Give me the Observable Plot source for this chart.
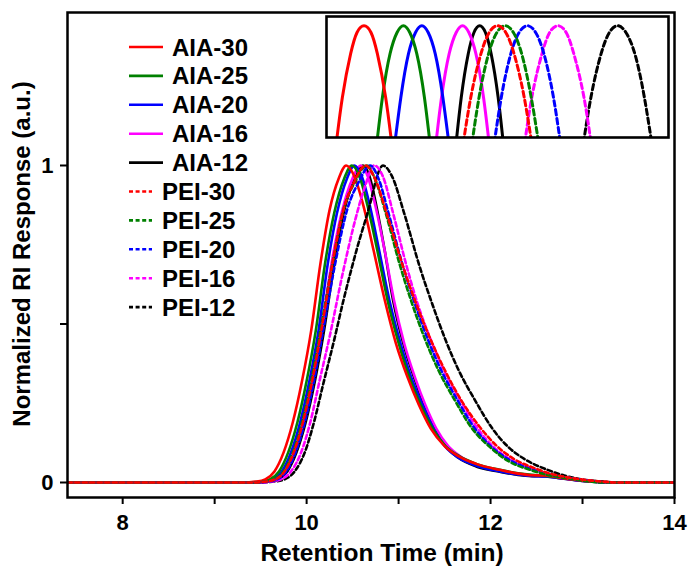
<!DOCTYPE html>
<html>
<head>
<meta charset="utf-8">
<script src="https://cdn.jsdelivr.net/npm/d3@7"></script>
<script src="https://cdn.jsdelivr.net/npm/@observablehq/plot@0.6"></script>
<style>
  html, body { margin: 0; padding: 0; background: #fff; }
  #wrap { position: relative; width: 688px; height: 571px; overflow: hidden; }
  #wrap svg { position: absolute; }
</style>
</head>
<body>
<div id="wrap"></div>
<script>
// ---- Series names, colours, dash flags ----
const names = ["AIA-30","AIA-25","AIA-20","AIA-16","AIA-12","PEI-30","PEI-25","PEI-20","PEI-16","PEI-12"];
const colors = ["#ff0000","#008000","#0000ff","#ff00ff","#000000","#ff0000","#008000","#0000ff","#ff00ff","#000000"];
const dashed = [false,false,false,false,false,true,true,true,true,true];

// ---- Main chromatograms: [retention time (min), normalized response] ----
const AIA30 = [[7.4,0],[9.3,0],[9.45,0.003],[9.55,0.01],[9.65,0.035],[9.75,0.095],[9.85,0.19],[9.95,0.32],[10.05,0.48],[10.15,0.69],[10.25,0.86],[10.35,0.96],[10.43,1.0],[10.52,0.965],[10.62,0.87],[10.73,0.73],[10.85,0.575],[10.97,0.44],[11.1,0.33],[11.22,0.245],[11.35,0.17],[11.5,0.115],[11.65,0.083],[11.85,0.058],[12.1,0.04],[12.3,0.028],[12.45,0.023],[12.6,0.022],[12.8,0.013],[13.0,0.006],[13.2,0.002],[13.4,0],[14,0]];
const AIA25 = [[7.4,0],[9.35,0],[9.5,0.003],[9.6,0.01],[9.7,0.035],[9.8,0.095],[9.9,0.19],[10.0,0.32],[10.1,0.48],[10.2,0.69],[10.3,0.85],[10.41,0.96],[10.493,1.0],[10.575,0.965],[10.665,0.87],[10.77,0.73],[10.88,0.575],[11.0,0.44],[11.12,0.33],[11.24,0.245],[11.37,0.17],[11.51,0.115],[11.66,0.083],[11.85,0.058],[12.1,0.04],[12.3,0.029],[12.45,0.024],[12.6,0.021],[12.8,0.014],[13.0,0.007],[13.2,0.002],[13.4,0],[14,0]];
const AIA20 = [[7.4,0],[9.38,0],[9.53,0.003],[9.63,0.01],[9.73,0.035],[9.83,0.095],[9.93,0.19],[10.03,0.32],[10.13,0.48],[10.23,0.69],[10.33,0.85],[10.44,0.96],[10.52,1.0],[10.6,0.965],[10.69,0.87],[10.79,0.73],[10.9,0.575],[11.02,0.44],[11.14,0.33],[11.26,0.245],[11.38,0.17],[11.51,0.112],[11.65,0.078],[11.85,0.052],[12.1,0.035],[12.3,0.025],[12.45,0.021],[12.6,0.019],[12.8,0.012],[13.0,0.005],[13.2,0.001],[13.4,0],[14,0]];
const AIA16 = [[7.4,0],[9.41,0],[9.56,0.003],[9.66,0.01],[9.76,0.035],[9.86,0.095],[9.96,0.19],[10.06,0.32],[10.16,0.48],[10.27,0.69],[10.38,0.85],[10.5,0.96],[10.586,1.0],[10.665,0.965],[10.75,0.87],[10.85,0.73],[10.95,0.575],[11.06,0.44],[11.18,0.33],[11.29,0.245],[11.41,0.17],[11.54,0.115],[11.67,0.083],[11.85,0.056],[12.1,0.038],[12.3,0.027],[12.45,0.022],[12.6,0.02],[12.8,0.013],[13.0,0.006],[13.2,0.002],[13.4,0],[14,0]];
const AIA12 = [[7.4,0],[9.44,0],[9.59,0.003],[9.69,0.01],[9.79,0.035],[9.89,0.095],[9.99,0.19],[10.09,0.32],[10.19,0.48],[10.3,0.69],[10.41,0.86],[10.535,0.965],[10.613,1.0],[10.685,0.965],[10.76,0.87],[10.85,0.73],[10.94,0.575],[11.05,0.44],[11.17,0.33],[11.28,0.245],[11.4,0.17],[11.52,0.112],[11.65,0.078],[11.85,0.05],[12.1,0.034],[12.3,0.024],[12.45,0.02],[12.6,0.019],[12.8,0.012],[13.0,0.005],[13.2,0.001],[13.4,0],[14,0]];
const PEI30 = [[7.4,0],[9.41,0],[9.56,0.003],[9.66,0.01],[9.76,0.035],[9.86,0.095],[9.96,0.19],[10.06,0.32],[10.16,0.48],[10.28,0.69],[10.40,0.86],[10.52,0.95],[10.64,1.0],[10.74,0.96],[10.88,0.84],[11.05,0.68],[11.19,0.565],[11.35,0.45],[11.51,0.35],[11.68,0.26],[11.87,0.18],[12.05,0.12],[12.25,0.075],[12.49,0.044],[12.65,0.028],[12.84,0.016],[13.1,0.006],[13.25,0.002],[13.35,0],[14,0]];
const PEI25 = [[7.4,0],[9.4,0],[9.55,0.003],[9.65,0.01],[9.75,0.035],[9.85,0.095],[9.95,0.19],[10.05,0.32],[10.15,0.48],[10.28,0.69],[10.40,0.86],[10.53,0.95],[10.65,1.0],[10.74,0.96],[10.86,0.85],[11.01,0.69],[11.14,0.57],[11.29,0.45],[11.44,0.35],[11.61,0.26],[11.8,0.17],[12.0,0.11],[12.18,0.07],[12.45,0.038],[12.65,0.022],[12.84,0.013],[13.05,0.004],[13.2,0],[14,0]];
const PEI20 = [[7.4,0],[9.43,0],[9.58,0.003],[9.68,0.01],[9.78,0.035],[9.88,0.095],[9.98,0.19],[10.08,0.32],[10.18,0.48],[10.31,0.69],[10.44,0.86],[10.57,0.95],[10.69,1.0],[10.78,0.96],[10.89,0.85],[11.04,0.69],[11.17,0.57],[11.32,0.45],[11.47,0.35],[11.64,0.26],[11.83,0.17],[12.02,0.11],[12.2,0.072],[12.46,0.04],[12.65,0.024],[12.84,0.014],[13.08,0.005],[13.25,0],[14,0]];
const PEI16 = [[7.4,0],[9.47,0],[9.62,0.003],[9.72,0.01],[9.83,0.035],[9.94,0.095],[10.04,0.19],[10.14,0.32],[10.25,0.46],[10.40,0.67],[10.53,0.83],[10.63,0.93],[10.735,1.0],[10.83,0.965],[10.94,0.85],[11.08,0.69],[11.2,0.57],[11.35,0.45],[11.5,0.35],[11.67,0.26],[11.86,0.17],[12.04,0.11],[12.22,0.072],[12.47,0.042],[12.65,0.025],[12.84,0.015],[13.1,0.005],[13.28,0],[14,0]];
const PEI12 = [[7.4,0],[9.5,0],[9.65,0.003],[9.76,0.01],[9.87,0.035],[9.98,0.095],[10.08,0.19],[10.18,0.31],[10.3,0.45],[10.40,0.574],[10.54,0.73],[10.70,0.89],[10.77,0.97],[10.83,1.0],[10.93,0.965],[11.06,0.85],[11.23,0.68],[11.37,0.56],[11.51,0.45],[11.66,0.35],[11.83,0.26],[12.02,0.17],[12.2,0.11],[12.38,0.072],[12.62,0.04],[12.8,0.022],[12.95,0.012],[13.2,0.003],[13.35,0],[14,0]];
const series = [AIA30, AIA25, AIA20, AIA16, AIA12, PEI30, PEI25, PEI20, PEI16, PEI12];

// ---- Inset (peak tops, zoomed): shared response levels, per-series times ----
const insetLevels = [0.9879, 0.9936, 0.9975, 0.9994, 1.0, 0.9994, 0.9975, 0.9936, 0.9879];
const insetAIA30 = [10.384, 10.397, 10.410, 10.420, 10.431, 10.442, 10.452, 10.465, 10.478];
const insetAIA25 = [10.448, 10.460, 10.472, 10.483, 10.493, 10.503, 10.514, 10.526, 10.538];
const insetAIA20 = [10.476, 10.489, 10.501, 10.512, 10.522, 10.532, 10.543, 10.555, 10.568];
const insetAIA16 = [10.541, 10.553, 10.565, 10.576, 10.586, 10.596, 10.607, 10.619, 10.631];
const insetAIA12 = [10.573, 10.584, 10.595, 10.604, 10.613, 10.622, 10.631, 10.642, 10.653];
const insetPEI30 = [10.583, 10.599, 10.615, 10.628, 10.641, 10.654, 10.667, 10.683, 10.699];
const insetPEI25 = [10.597, 10.612, 10.627, 10.640, 10.653, 10.666, 10.679, 10.694, 10.710];
const insetPEI20 = [10.632, 10.647, 10.662, 10.675, 10.688, 10.701, 10.714, 10.729, 10.744];
const insetPEI16 = [10.680, 10.695, 10.711, 10.723, 10.736, 10.749, 10.761, 10.777, 10.792];
const insetPEI12 = [10.772, 10.788, 10.804, 10.817, 10.830, 10.843, 10.857, 10.872, 10.888];
const insetSeries = [insetAIA30, insetAIA25, insetAIA20, insetAIA16, insetAIA12, insetPEI30, insetPEI25, insetPEI20, insetPEI16, insetPEI12];

// ---- Axis ticks ----
const xTicks = [8, 10, 12, 14];
const xMinorTicks = [9, 11, 13];
const yTicks = [0, 1];
const yMinorTicks = [0.5];
const xLabel = "Retention Time (min)";
const yLabel = "Normalized RI Response (a.u.)";

// ---- Build tidy tables ----
const rows = [];
series.forEach((s, i) => s.forEach(([t, v]) => rows.push({name: names[i], i, t, v})));
const insetRows = [];
insetSeries.forEach((s, i) => s.forEach((t, k) => insetRows.push({name: names[i], i, t, v: insetLevels[k]})));

const FONT = "'Liberation Sans', Arial, Helvetica, sans-serif";
const drawOrder = [4,3,2,1,0,9,8,7,6,5];

function lineMarks(data, opts) {
  return drawOrder.map(i => Plot.line(data.filter(d => d.i === i), {
    x: "t", y: "v", stroke: colors[i], strokeWidth: opts.sw,
    strokeDasharray: dashed[i] ? opts.dash : null,
    curve: opts.curve, clip: true
  }));
}

const main = Plot.plot({
  width: 688, height: 571,
  marginLeft: 67, marginRight: 14, marginTop: 12, marginBottom: 74,
  style: {fontFamily: FONT, fontWeight: "bold", fontSize: "22px", background: "transparent", overflow: "visible"},
  x: {domain: [7.4, 14]},
  y: {domain: [-0.0473, 1.4826]},
  marks: [
    ...lineMarks(rows, {sw: 2.6, dash: "4.5,3", curve: "monotone-x"}),
    Plot.axisX({ticks: xTicks, tickSize: 7, tickPadding: 10, strokeWidth: 2, fontSize: 22, fontWeight: "bold", label: null, tickFormat: d => String(d)}),
    Plot.axisX({ticks: xMinorTicks, tickSize: 7, strokeWidth: 2, tickFormat: () => "", label: null}),
    Plot.axisY({ticks: yTicks, tickSize: 7, tickPadding: 7, strokeWidth: 2, fontSize: 22, fontWeight: "bold", label: null, tickFormat: d => String(d)}),
    Plot.axisY({ticks: yMinorTicks, tickSize: 7, strokeWidth: 2, tickFormat: () => "", label: null}),
    Plot.frame({stroke: "black", strokeWidth: 2.5})
  ]
});
main.style.left = "0px"; main.style.top = "0px";
const wrap = document.getElementById("wrap");
wrap.appendChild(main);

// axis titles
const ms = d3.select(main);
ms.append("text").attr("x", 382).attr("y", 561).attr("text-anchor", "middle")
  .attr("font-family", FONT).attr("font-weight", "bold").attr("font-size", 24.5).attr("fill", "black").text(xLabel);
ms.append("text").attr("transform", "translate(30,254) rotate(-90)").attr("text-anchor", "middle")
  .attr("font-family", FONT).attr("font-weight", "bold").attr("font-size", 24).attr("fill", "black").text(yLabel);

// ---- Inset ----
const inset = Plot.plot({
  width: 346, height: 125, margin: 2,
  style: {background: "white", overflow: "visible"},
  x: {domain: [10.372, 10.910], axis: null},
  y: {domain: [0.99, 1.00083], axis: null},
  marks: [
    ...lineMarks(insetRows, {sw: 3, dash: "5.5,3.5", curve: "natural"}),
    Plot.frame({stroke: "black", strokeWidth: 2.6})
  ]
});
inset.style.left = "324px"; inset.style.top = "14px";
wrap.appendChild(inset);

// ---- Legend ----
const leg = d3.select(wrap).append("svg").attr("width", 170).attr("height", 300)
  .style("left", "120px").style("top", "30px");
names.forEach((n, i) => {
  const y = 17 + i * 28.9;
  const isD = dashed[i];
  leg.append("line").attr("x1", 9).attr("x2", isD ? 32 : 43).attr("y1", y).attr("y2", y)
    .attr("stroke", colors[i]).attr("stroke-width", 2.6)
    .attr("stroke-dasharray", isD ? "4,2.6" : null);
  leg.append("text").attr("x", isD ? 42 : 52).attr("y", y + 8.5)
    .attr("font-family", FONT).attr("font-weight", "bold").attr("font-size", 24).attr("fill", "black").text(n);
});
</script>
</body>
</html>
